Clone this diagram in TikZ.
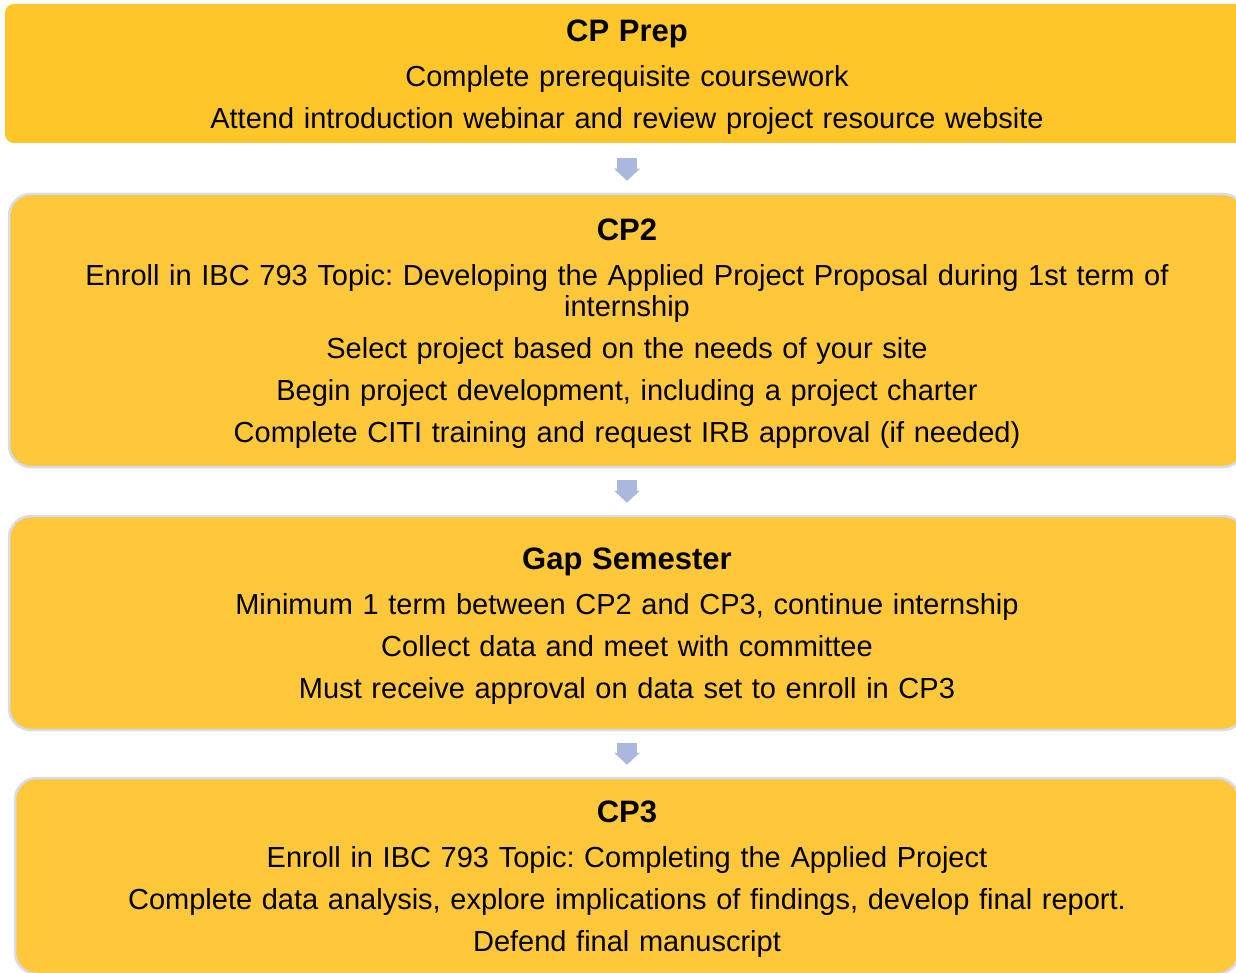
\documentclass[tikz,border=0pt]{standalone}
\usepackage{fontspec}
\setmainfont{Liberation Sans}
\usepackage{tikz}
\usetikzlibrary{arrows.meta}
\frenchspacing

\definecolor{prepyellow}{RGB}{255,198,41}
\definecolor{stageyellow}{RGB}{255,200,58}
\definecolor{edgeblue}{RGB}{214,220,238}
\definecolor{arrowblue}{RGB}{171,184,222}
\newcommand{\stagetitle}[1]{{\fontsize{31}{31}\selectfont\bfseries\rule{0pt}{29pt}#1}\\[14pt]}

\begin{document}
\begin{tikzpicture}[x=1pt,y=-1pt,
    stage/.style={rectangle, fill=stageyellow, draw=edgeblue, line width=2.5pt,
        rounded corners=22pt, inner sep=0pt, text width=1180pt, align=center,
        font=\fontsize{29}{31}\selectfont},
    downarrow/.style={arrowblue, line width=20pt, -{Triangle[width=25pt,length=12pt]}}]

    \useasboundingbox (0,0) rectangle (1236,973);

    %\node[stage] (prep) {CP Prep};
    \node[stage, fill=prepyellow, draw=none, rounded corners=9pt,
        minimum width=1244pt, minimum height=139pt] (prep) at (627,73.5) {
        \stagetitle{CP Prep}
        Complete prerequisite coursework\\[11pt]
        Attend introduction webinar and review project resource website};
    \node[stage, minimum width=1236pt, minimum height=273pt] (cp2) at (627,330.5) {
        \stagetitle{CP2}
        Enroll in IBC 793 Topic: Developing the Applied Project Proposal during 1st term of\\
        internship\\[11pt]
        Select project based on the needs of your site\\[11pt]
        Begin project development, including a project charter\\[11pt]
        Complete CITI training and request IRB approval (if needed)};
    \node[stage, minimum width=1236pt, minimum height=214pt] (gap) at (627,623) {
        \stagetitle{Gap Semester}
        Minimum 1 term between CP2 and CP3, continue internship\\[11pt]
        Collect data and meet with committee\\[11pt]
        Must receive approval on data set to enroll in CP3};
    \node[stage, minimum width=1224pt, minimum height=196pt] (cp3) at (627,876) {
        \stagetitle{CP3}
        Enroll in IBC 793 Topic: Completing the Applied Project\\[11pt]
        Complete data analysis, explore implications of findings, develop final report.\\[11pt]
        Defend final manuscript};

    \draw[downarrow] ([yshift=-14pt]prep.south) -- ([yshift=12pt]cp2.north);
    \draw[downarrow] ([yshift=-12pt]cp2.south) -- ([yshift=12pt]gap.north);
    \draw[downarrow] ([yshift=-12pt]gap.south) -- ([yshift=12pt]cp3.north);
\end{tikzpicture}
\end{document}
